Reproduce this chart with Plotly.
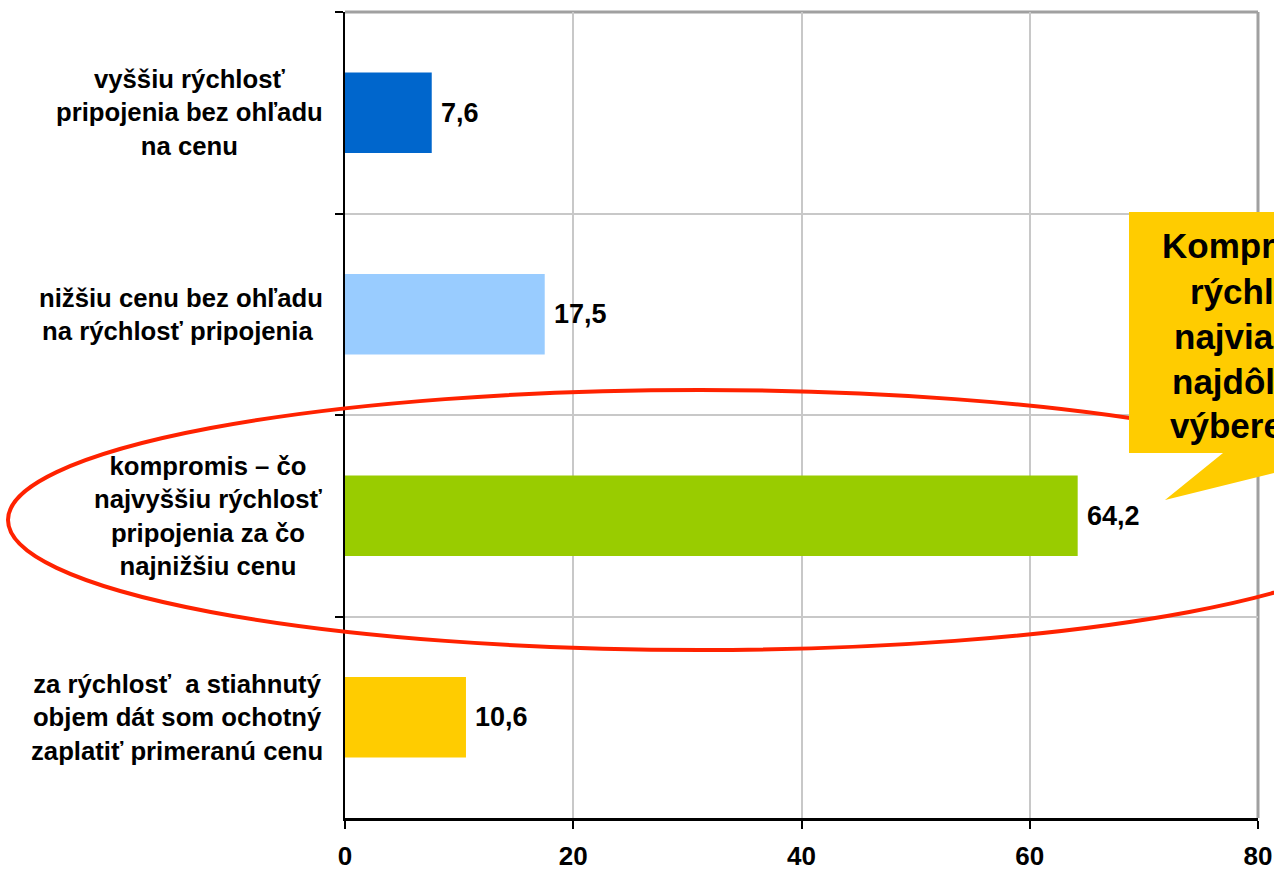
import plotly.graph_objects as go

categories = [
    "vyššiu rýchlosť<br>pripojenia bez ohľadu<br>na cenu",
    "nižšiu cenu bez ohľadu<br>na rýchlosť pripojenia\u00a0",
    "kompromis – čo<br>najvyššiu rýchlosť<br>pripojenia za čo<br>najnižšiu cenu",
    "za rýchlosť\u00a0 a stiahnutý<br>objem dát som ochotný<br>zaplatiť primeranú cenu",
]
values = [7.6, 17.5, 64.2, 10.6]
colors = ["#0066cc", "#99ccff", "#99cc00", "#ffcc00"]
x_ticks = [0, 20, 40, 60, 80]
callout_lines = ["Kompromis", "rýchlosť", "najviac", "najdôležitejší", "výbere"]

W, H = 1274, 872
L, R, T, B = 345, 1258, 12, 818
FONT = "Liberation Sans, Arial, sans-serif"


def px(x):
    return (x - L) / (R - L)


def py(y):
    return (B - y) / (B - T)


fig = go.Figure()
fig.add_trace(go.Bar(
    x=values, y=categories, orientation="h",
    marker=dict(color=colors, line=dict(width=0)),
    hoverinfo="skip",
))

annotations = []
for c, v in zip(categories, values):
    annotations.append(dict(
        x=0, xref="paper", y=c, yref="y", text=c, showarrow=False,
        xanchor="right", yanchor="middle", xshift=-20, align="center",
        font=dict(family=FONT, size=25.7, color="black", weight="bold"),
    ))
    annotations.append(dict(
        x=v, xref="x", y=c, yref="y", text=f"{v:.1f}".replace(".", ","),
        showarrow=False, xanchor="left", yanchor="middle", xshift=7,
        font=dict(family=FONT, size=27, color="black", weight="bold"),
    ))

line_x = [1160, 1188, 1172, 1170, 1168]
line_y = [246, 291, 336, 381, 425]
for t, lx, ly in zip(callout_lines, line_x, line_y):
    annotations.append(dict(
        x=px(lx), xref="paper", y=py(ly), yref="paper", text=t,
        showarrow=False, xanchor="left", yanchor="middle",
        font=dict(family=FONT, size=35, color="black", weight="bold"),
    ))

shapes = [
    # red ellipse
    dict(type="circle", xref="paper", yref="paper",
         x0=px(8), x1=px(1392), y0=py(390), y1=py(650),
         line=dict(color="#ff2200", width=4), fillcolor="rgba(0,0,0,0)",
         layer="above"),
    # callout
    dict(type="path", xref="paper", yref="paper",
         path=(f"M {px(1129)},{py(212)} L {px(1400)},{py(212)} L {px(1400)},{py(453)} "
               f"L {px(1355)},{py(453)} L {px(1165)},{py(500)} L {px(1223)},{py(453)} "
               f"L {px(1129)},{py(453)} Z"),
         fillcolor="#ffcc00", line=dict(width=0), layer="above"),
    # top / right plot border
    dict(type="line", xref="paper", yref="paper", x0=0, x1=1, y0=1, y1=1,
         line=dict(color="#a0a0a0", width=3), layer="below"),
    dict(type="line", xref="paper", yref="paper", x0=1, x1=1, y0=0, y1=1,
         line=dict(color="#a0a0a0", width=3), layer="below"),
]

fig.update_layout(
    width=W, height=H, autosize=False,
    margin=dict(l=L, r=W - R, t=T, b=H - B, pad=0, autoexpand=False),
    paper_bgcolor="white", plot_bgcolor="white",
    showlegend=False, bargap=0.6,
    annotations=annotations, shapes=shapes,
    font=dict(family=FONT, color="black"),
    xaxis=dict(
        range=[0, 80], tickvals=x_ticks, ticktext=[str(t) for t in x_ticks],
        showgrid=True, gridcolor="#c8c8c8", gridwidth=2, zeroline=False,
        showline=True, linecolor="black", linewidth=3,
        ticks="outside", ticklen=8, tickwidth=2, tickcolor="black",
        ticklabelstandoff=5, automargin=False,
        tickfont=dict(family=FONT, size=26, color="black", weight="bold"),
        fixedrange=True,
    ),
    yaxis=dict(
        type="category", categoryorder="array", categoryarray=categories,
        autorange="reversed", tickson="boundaries", automargin=False,
        showticklabels=False, showgrid=True, gridcolor="#c8c8c8", gridwidth=2,
        showline=True, linecolor="black", linewidth=2,
        ticks="outside", ticklen=8, tickwidth=2, tickcolor="black",
        fixedrange=True,
    ),
)

fig.write_html("out.html", config={"displayModeBar": False},
               post_script="document.body.style.margin='0';")
